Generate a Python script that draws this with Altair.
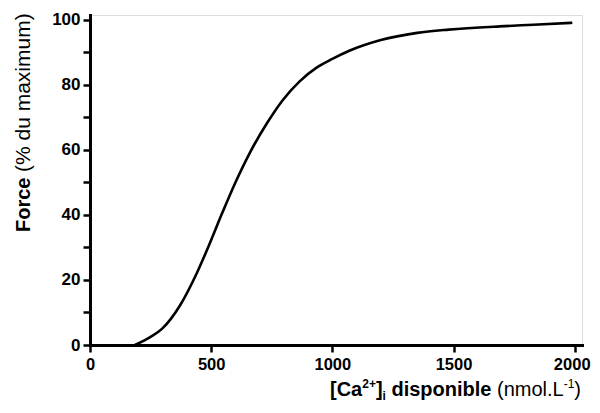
import altair as alt
import pandas as pd

# Data
calcium = [185, 250, 300, 370, 440, 490, 545, 600, 660, 730, 795, 865, 935,
           1000, 1070, 1200, 1350, 1480, 1690, 1830, 1990]
force = [0, 2.5, 5.2, 12, 22, 30.5, 40.5, 50, 59.2, 68.2, 75.3, 81.1, 85.3,
         88, 90.5, 93.8, 96, 97, 98, 98.5, 99.1]
x_ticks = [0, 500, 1000, 1500, 2000]
y_ticks = [0, 10, 20, 30, 40, 50, 60, 70, 80, 90, 100]

df = pd.DataFrame({"ca": calcium, "force": force})

FONT = "Liberation Sans"

x_axis = alt.Axis(values=x_ticks, title=None, grid=False, format="d",
                  domainColor="black", domainWidth=3, domainCap="square",
                  tickColor="black", tickWidth=2.5, tickSize=7, labelFont=FONT,
                  labelFontSize=16.5, labelFontWeight="bold", labelColor="black",
                  labelPadding=4, labelFlush=False, labelOverlap=False,
                  labelOffset={"condition": {"test": "datum.value == 2000",
                                             "value": -3},
                               "value": 0})
y_axis = alt.Axis(values=y_ticks, title=None, grid=False, format="d",
                  domainColor="black", domainWidth=3, domainCap="square",
                  tickColor="black", tickWidth=2.5, tickSize=7, labelFont=FONT,
                  labelFontSize=17, labelFontWeight="bold", labelColor="black",
                  labelPadding=3,
                  labelExpr="datum.value % 20 == 0 ? datum.label : ''",
                  labelOverlap=False)

curve = alt.Chart(df).mark_line(color="black", strokeWidth=2.6,
                                interpolate="monotone").encode(
    x=alt.X("ca:Q", scale=alt.Scale(domain=[0, 2030], nice=False), axis=x_axis),
    y=alt.Y("force:Q", scale=alt.Scale(domain=[0, 101.5], nice=False), axis=y_axis),
)


def piece(text, x, y, size, bold, angle=0):
    return alt.Chart(alt.Data(values=[{"t": text}])).mark_text(
        text=text, font=FONT, fontSize=size,
        fontWeight="bold" if bold else "normal", align="left",
        baseline="alphabetic" if angle == 0 else "middle", angle=angle,
        color="black").encode(x=alt.value(x), y=alt.value(y))


# x title: [Ca2+]i disponible (nmol.L-1)
layers = [curve]
BIG, SMALL = 20, 12
parts = [  # text, width (em) incl. following gap, size, bold, dy
    ("[Ca", 1.611, BIG, True, 0),
    ("2+", 1.14, SMALL, True, -8),
    ("]", 0.333, BIG, True, 0),
    ("i", 0.278 + 0.278 * BIG / SMALL, SMALL, True, 4),
    ("disponible", 4.999 + 0.278, BIG, True, 0),
    ("(nmol.L", 3.334, BIG, False, 0),
    ("-1", 0.889, SMALL, False, -8),
    (")", 0.333, BIG, False, 0),
]
cx = 240
for text, em, size, bold, dy in parts:
    layers.append(piece(text, cx, 381 + dy, size, bold))
    cx += em * size

# y title: Force (% du maximum), rotated
layers.append(piece("Force", -66, 217, 20, True, angle=270))
layers.append(piece("(% du maximum)", -66, 157, 21, False, angle=270))

chart = alt.layer(*layers).properties(
    width=492, height=330,
    autosize=alt.AutoSizeParams(type="none"),
    padding={"left": 82, "top": 7, "right": 10, "bottom": 60},
).configure_view(stroke=None).configure(background="white")

chart.save("out.html", embed_options={"renderer": "svg", "actions": False})
